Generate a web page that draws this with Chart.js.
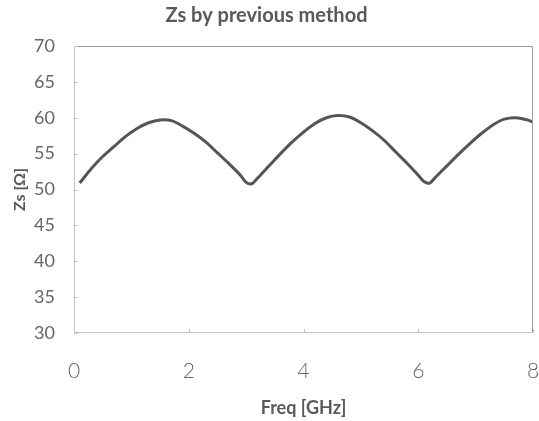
<!DOCTYPE html>
<html>
<head>
<meta charset="utf-8">
<script src="https://cdn.jsdelivr.net/npm/chart.js@4/dist/chart.umd.min.js"></script>
<style>
  html, body { margin: 0; padding: 0; background: #fff; }
  #wrap { width: 539px; height: 421px; }
</style>
</head>
<body>
<div id="wrap"><canvas id="c" width="539" height="421"></canvas></div>
<script>
/* ---------- data ---------- */
const freq = [0.1, 0.3, 0.5, 0.7, 0.9, 1.1, 1.3, 1.5, 1.7, 1.9, 2.1, 2.3, 2.5, 2.7, 2.9, 3.0, 3.1, 3.2,
  3.4, 3.6, 3.8, 4.0, 4.2, 4.4, 4.6, 4.8, 5.0, 5.2, 5.4, 5.6, 5.8, 6.0, 6.1, 6.2, 6.3,
  6.5, 6.7, 6.9, 7.1, 7.3, 7.5, 7.7, 7.9, 8.0];
const zs = [50.9, 52.9, 54.6, 56.0, 57.4, 58.5, 59.3, 59.7, 59.6, 58.8, 57.8, 56.6, 55.1, 53.6, 52.0, 51.0, 50.8, 51.6,
  53.3, 55.0, 56.6, 58.0, 59.2, 60.0, 60.3, 60.1, 59.3, 58.2, 56.9, 55.3, 53.7, 52.0, 51.1, 50.9, 51.7,
  53.3, 54.9, 56.4, 57.8, 59.0, 59.8, 60.0, 59.7, 59.4];
const xTicks = [0, 2, 4, 6, 8];
const yTicks = [30, 35, 40, 45, 50, 55, 60, 65, 70];

const txt = "#595959";
const font = "Lato, 'Open Sans', sans-serif";

/* ---------- plot frame + small inward ticks ---------- */
const frame = {
  id: "frame",
  afterDraw(chart) {
    const { ctx, chartArea: a, scales } = chart;
    ctx.save();
    ctx.lineWidth = 1;
    ctx.strokeStyle = "#9a9a9a";
    ctx.beginPath();
    ctx.moveTo(a.left + 0.5, a.top + 0.5);
    ctx.lineTo(a.right - 0.5, a.top + 0.5);
    ctx.lineTo(a.right - 0.5, a.bottom - 0.5);
    ctx.stroke();
    ctx.strokeStyle = "#c4c4c4";
    ctx.beginPath();
    ctx.moveTo(a.left + 0.5, a.top + 0.5);
    ctx.lineTo(a.left + 0.5, a.bottom - 0.5);
    ctx.lineTo(a.right - 0.5, a.bottom - 0.5);
    yTicks.forEach((v) => {
      const py = Math.round(scales.y.getPixelForValue(v)) + 0.5;
      ctx.moveTo(a.left, py); ctx.lineTo(a.left + 4, py);
    });
    xTicks.forEach((v) => {
      const px = Math.round(scales.x.getPixelForValue(v)) + 0.5;
      ctx.moveTo(px, a.bottom); ctx.lineTo(px, a.bottom - 4);
    });
    ctx.stroke();
    ctx.restore();
  },
};

new Chart(document.getElementById("c"), {
  type: "scatter",
  data: {
    datasets: [{
      data: freq.map((f, i) => ({ x: f, y: zs[i] })),
      showLine: true, borderColor: "#555", borderWidth: 3,
      pointRadius: 0, tension: 0.3, fill: false,
    }],
  },
  options: {
    responsive: false, animation: false,
    layout: { padding: { left: 0, right: 6, top: 0, bottom: 0 } },
    plugins: {
      legend: { display: false },
      tooltip: { enabled: false },
      title: {
        display: true, text: "Zs by previous method", color: txt,
        font: { family: font, size: 20, weight: "bold" }, padding: { top: 4, bottom: 18 },
      },
    },
    scales: {
      x: {
        type: "linear", min: 0, max: 8,
        afterBuildTicks: (s) => { s.ticks = xTicks.map((v) => ({ value: v })); },
        afterFit: (s) => { s.height = 88; s.paddingRight = 0; s.paddingLeft = 0; },
        grid: { display: false, drawTicks: false },
        border: { display: false },
        ticks: { color: "#666", padding: 26, maxRotation: 0, font: { family: font, size: 21, weight: 300 } },
        title: { display: true, text: "Freq [GHz]", color: txt, padding: { top: 8, bottom: 2 },
          font: { family: font, size: 18, weight: "bold" } },
      },
      y: {
        min: 30, max: 70,
        afterBuildTicks: (s) => { s.ticks = yTicks.map((v) => ({ value: v })); },
        afterFit: (s) => { s.width = 74; },
        grid: { display: false, drawTicks: false },
        border: { display: false },
        ticks: { color: "#666", padding: 19, font: { family: font, size: 18 } },
        title: { display: true, text: "Zs [Ω]", color: txt, padding: { top: 10, bottom: 4 },
          font: { family: font, size: 16, weight: "bold" } },
      },
    },
  },
  plugins: [frame],
});
</script>
</body>
</html>
